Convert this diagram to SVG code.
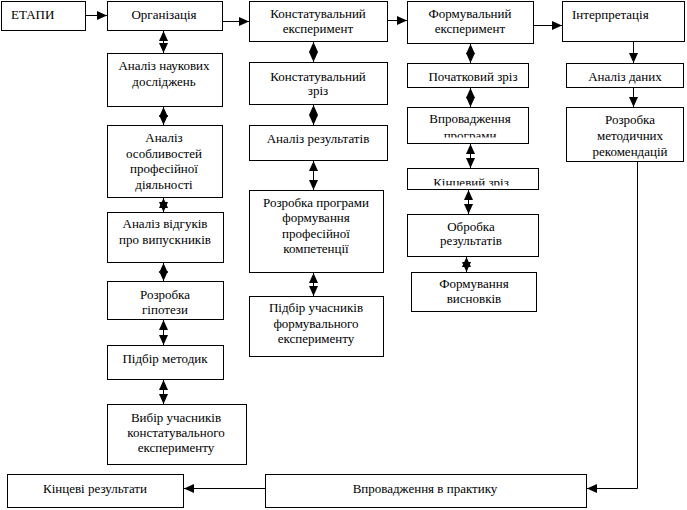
<svg xmlns="http://www.w3.org/2000/svg" width="687" height="510" viewBox="0 0 687 510">
<style>
  rect.box { fill: #fff; stroke: #000; stroke-width: 1; }
  text { font-family: "Liberation Serif", "Times New Roman", serif; font-size: 13px; fill: #000; }
  .c { text-anchor: middle; }
  .conn line, .conn polyline { stroke: #000; stroke-width: 1; fill: none; }
  .one { marker-end: url(#ah); }
  .two { marker-start: url(#ah); marker-end: url(#ah); }
</style>
<defs>
  <marker id="ah" markerUnits="userSpaceOnUse" markerWidth="10" markerHeight="9" refX="10" refY="4.5" orient="auto-start-reverse">
    <path d="M0,0 L10,4.5 L0,9 z" fill="#000"/>
  </marker>
  <clipPath id="clipProg"><rect x="407" y="107" width="121" height="30.5"/></clipPath>
  <clipPath id="clipKin"><rect x="407" y="168" width="131" height="17.5"/></clipPath>
  <clipPath id="clipRek"><rect x="566" y="107" width="117" height="54"/></clipPath>
  <clipPath id="clipRek2"><rect x="566" y="148" width="117" height="13"/></clipPath>
</defs>

<g id="n-etapy"><rect class="box" x="1.5" y="1.5" width="84" height="29"/><text x="11" y="19">ЕТАПИ</text></g>
<g id="n-org"><rect class="box" x="107.5" y="1.5" width="115" height="29"/><text class="c" x="164" y="19">Організація</text></g>
<g id="n-an-nauk"><rect class="box" x="107.5" y="53.5" width="115" height="53"/><text class="c" x="164" y="70">Аналіз наукових</text><text class="c" x="164" y="86">досліджень</text></g>
<g id="n-an-osob"><rect class="box" x="107.5" y="125.5" width="115" height="72"/><text class="c" x="164" y="142">Аналіз</text><text class="c" x="164" y="158">особливостей</text><text class="c" x="164" y="173">професійної</text><text class="c" x="164" y="189">діяльності</text></g>
<g id="n-an-vidg"><rect class="box" x="107.5" y="212.5" width="116" height="50"/><text class="c" x="165" y="228">Аналіз відгуків</text><text class="c" x="165" y="244">про випускників</text></g>
<g id="n-hipot"><rect class="box" x="107.5" y="281.5" width="116" height="38"/><text class="c" x="165" y="299">Розробка</text><text class="c" x="165" y="314">гіпотези</text></g>
<g id="n-metod"><rect class="box" x="107.5" y="345.5" width="116" height="34"/><text class="c" x="165" y="363">Підбір методик</text></g>
<g id="n-vybir"><rect class="box" x="107.5" y="404.5" width="139" height="60"/><text class="c" x="176" y="422">Вибір учасників</text><text class="c" x="176" y="437">констатувального</text><text class="c" x="176" y="452">експерименту</text></g>

<g id="n-konst-exp"><rect class="box" x="249.5" y="1.5" width="138" height="40"/><text class="c" x="318" y="18">Констатувальний</text><text class="c" x="318" y="33">експеримент</text></g>
<g id="n-konst-zriz"><rect class="box" x="249.5" y="62.5" width="138" height="42"/><text class="c" x="318" y="81">Констатувальний</text><text class="c" x="318" y="95">зріз</text></g>
<g id="n-an-rez"><rect class="box" x="249.5" y="125.5" width="138" height="35"/><text class="c" x="318" y="143">Аналіз результатів</text></g>
<g id="n-rozr-prog"><rect class="box" x="249.5" y="190.5" width="134" height="82"/><text class="c" x="316" y="207">Розробка програми</text><text class="c" x="316" y="222">формування</text><text class="c" x="316" y="238">професійної</text><text class="c" x="316" y="253">компетенції</text></g>
<g id="n-pidbir-form"><rect class="box" x="249.5" y="296.5" width="134" height="60"/><text class="c" x="316" y="312">Підбір учасників</text><text class="c" x="316" y="328">формувального</text><text class="c" x="316" y="343">експерименту</text></g>

<g id="n-form-exp"><rect class="box" x="407.5" y="1.5" width="126" height="42"/><text class="c" x="470" y="18">Формувальний</text><text class="c" x="470" y="33">експеримент</text></g>
<g id="n-poch"><rect class="box" x="407.5" y="63.5" width="121" height="24"/><text class="c" x="473" y="81">Початковий зріз</text></g>
<g id="n-vprov-prog"><rect class="box" x="407.5" y="107.5" width="121" height="36"/><text class="c" x="470" y="123">Впровадження</text><text class="c" x="470" y="140" clip-path="url(#clipProg)">програми</text></g>
<g id="n-kinc-zriz"><rect class="box" x="407.5" y="168.5" width="131" height="21"/><text class="c" x="471" y="186.5" clip-path="url(#clipKin)">Кінцевий зріз</text></g>
<g id="n-obrob"><rect class="box" x="407.5" y="214.5" width="131" height="42"/><text class="c" x="471" y="231">Обробка</text><text class="c" x="471" y="245">результатів</text></g>
<g id="n-vysn"><rect class="box" x="411.5" y="272.5" width="125" height="39"/><text class="c" x="474" y="288">Формування</text><text class="c" x="474" y="303">висновків</text></g>

<g id="n-interp"><rect class="box" x="562.5" y="1.5" width="122" height="40"/><text x="572" y="19">Інтерпретація</text></g>
<g id="n-an-dan"><rect class="box" x="566.5" y="63.5" width="117" height="24"/><text class="c" x="625" y="81">Аналіз даних</text></g>
<g id="n-rozr-rek"><rect class="box" x="566.5" y="107.5" width="117" height="54"/><text class="c" x="630" y="124">Розробка</text><text class="c" x="630" y="140">методичних</text><text class="c" x="630" y="156" clip-path="url(#clipRek2)">рекомендацій</text></g>

<g id="n-kinc-rez"><rect class="box" x="7.5" y="474.5" width="176" height="33"/><text class="c" x="95" y="493">Кінцеві результати</text></g>
<g id="n-vprov-prakt"><rect class="box" x="265.5" y="474.5" width="321" height="33"/><text class="c" x="425" y="493">Впровадження в практику</text></g>

<g id="connectors" class="conn">
  <line class="one" x1="86" y1="15.5" x2="107" y2="15.5"/>
  <line class="one" x1="223" y1="21.5" x2="249" y2="21.5"/>
  <line class="one" x1="388" y1="20.5" x2="407" y2="20.5"/>
  <line class="one" x1="534" y1="25.5" x2="562" y2="25.5"/>
  <line class="one" x1="633.5" y1="42" x2="633.5" y2="63"/>
  <line class="one" x1="633.5" y1="88" x2="633.5" y2="107"/>
  <polyline class="one" points="637.5,162 637.5,488.5 587,488.5"/>
  <line class="one" x1="265" y1="488.5" x2="184" y2="488.5"/>

  <line class="two" x1="163.5" y1="31" x2="163.5" y2="53"/>
  <line class="two" x1="163.5" y1="107" x2="163.5" y2="125"/>
  <line class="two" x1="163.5" y1="198" x2="163.5" y2="212"/>
  <line class="two" x1="163.5" y1="263" x2="163.5" y2="281"/>
  <line class="two" x1="163.5" y1="320" x2="163.5" y2="345"/>
  <line class="two" x1="163.5" y1="380" x2="163.5" y2="404"/>

  <line class="two" x1="313.5" y1="42" x2="313.5" y2="62"/>
  <line class="two" x1="313.5" y1="105" x2="313.5" y2="125"/>
  <line class="two" x1="313.5" y1="161" x2="313.5" y2="190"/>
  <line class="two" x1="313.5" y1="273" x2="313.5" y2="296"/>

  <line class="two" x1="470.5" y1="44" x2="470.5" y2="63"/>
  <line class="two" x1="470.5" y1="88" x2="470.5" y2="107"/>
  <line class="two" x1="470.5" y1="144" x2="470.5" y2="168"/>
  <line class="two" x1="468.5" y1="190" x2="468.5" y2="214"/>
  <line class="two" x1="466.5" y1="257" x2="466.5" y2="272"/>
</g>
</svg>
